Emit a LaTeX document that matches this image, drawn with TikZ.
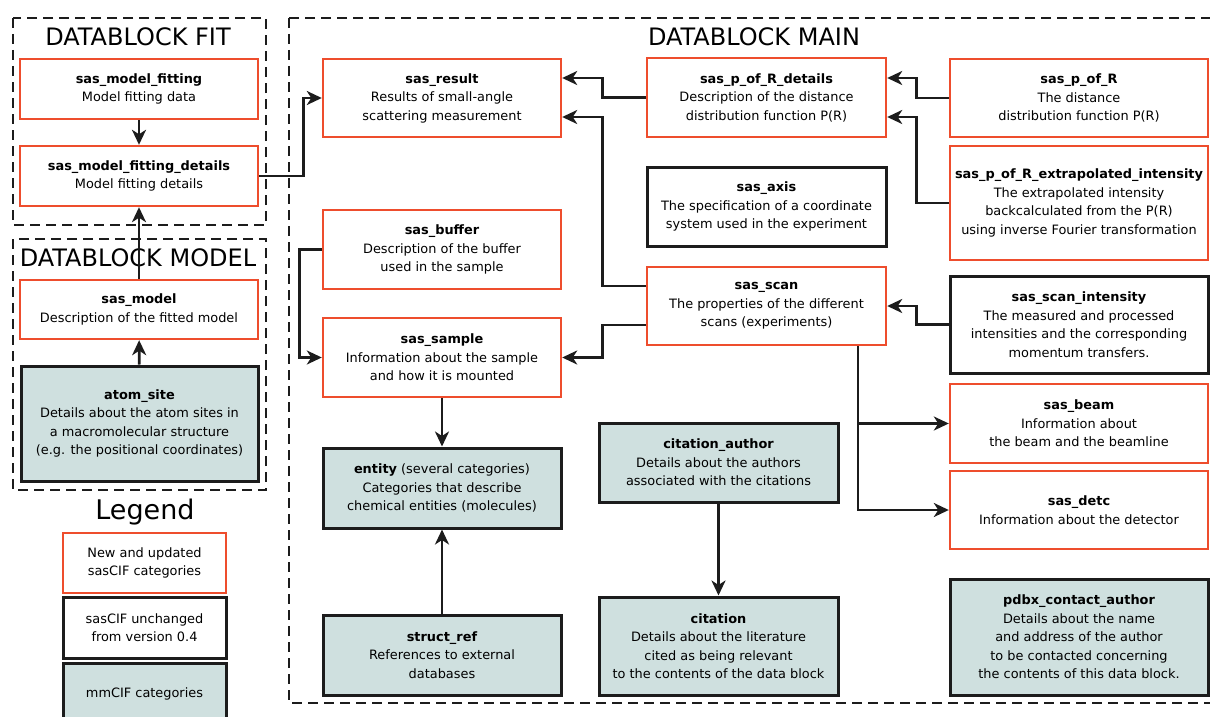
\documentclass[tikz,border=0pt]{standalone}
\usepackage{fontspec}
\setmainfont{DejaVu Sans}
\definecolor{SasRed}{RGB}{238,77,45}
\definecolor{CifBlack}{RGB}{28,28,28}
\definecolor{MmFill}{RGB}{207,224,223}
\usetikzlibrary{arrows.meta,positioning,calc}

\begin{document}
\begin{tikzpicture}[x=1pt,y=-1pt,
  cat/.style={align=center,inner sep=0pt,font=\fontsize{12.9}{18.5}\selectfont},
  newcat/.style={cat,draw=SasRed,line width=2.4pt,fill=white},
  oldcat/.style={cat,draw=CifBlack,line width=3pt,fill=white},
  mmcat/.style={oldcat,fill=MmFill},
  wh/.style 2 args={minimum width=#1pt,minimum height=#2pt},
  link/.style={CifBlack,line width=2.8pt,-{Stealth[length=15pt,width=14pt,inset=4.5pt]}},
  block/.style={CifBlack,line width=2.8pt,dash pattern=on 10pt off 6pt},
  blocktitle/.style={anchor=base,font=\fontsize{24}{28}\selectfont}]
\useasboundingbox (0,0) rectangle (1210,717);
% Datablocks
\draw[block] (13,18) rectangle (266,225);
\draw[block] (13,239) rectangle (266,490);
\draw[block] (289,18) rectangle (1225,703);
\node[blocktitle] (tfit) at (138,46) {DATABLOCK FIT};
\node[blocktitle] (tmodel) at (138,266) {DATABLOCK MODEL};
\node[blocktitle] (tmain) at (754,46) {DATABLOCK MAIN};
% Fit and model
\node[newcat,wh={238}{60}] (fit) at (139,89) {\textbf{sas\_model\_fitting}\\Model fitting data};
\node[newcat,wh={238}{60}] (fitdet) at (139,176) {\textbf{sas\_model\_fitting\_details}\\Model fitting details};
\node[newcat,wh={238}{59}] (model) at (139,309.5) {\textbf{sas\_model}\\Description of the fitted model};
\node[mmcat,wh={237}{115}] (atomsite) at (139.5,423.5) {\textbf{atom\_site}\\Details about the atom sites in\\a macromolecular structure\\(e.g. the positional coordinates)};
% Legend
\node[anchor=base,font=\fontsize{27}{30}\selectfont] (legend) at (145,519) {Legend};
\node[newcat,wh={163}{60}] (lnew) at (144.5,563) {New and updated\\sasCIF categories};
\node[oldcat,wh={163}{61}] (lold) at (144.5,627.5) {sasCIF unchanged\\from version 0.4};
\node[mmcat,wh={163}{62}] (lmm) at (144.5,694) {mmCIF categories};
% Main: left column
\node[newcat,wh={238}{78}] (result) at (442,98) {\textbf{sas\_result}\\Results of small-angle\\scattering measurement};
\node[newcat,wh={238}{79}] (buffer) at (442,249.5) {\textbf{sas\_buffer}\\Description of the buffer\\used in the sample};
\node[newcat,wh={238}{79}] (sample) at (442,357.5) {\textbf{sas\_sample}\\Information about the sample\\and how it is mounted};
\node[mmcat,wh={238}{80}] (entity) at (442,488) {\textbf{entity} (several categories)\\Categories that describe\\chemical entities (molecules)};
\node[mmcat,wh={238}{80}] (structref) at (442,655) {\textbf{struct\_ref}\\References to external\\databases};
% Main: middle column
\node[newcat,wh={239}{79}] (prdet) at (766.5,97.5) {\textbf{sas\_p\_of\_R\_details}\\Description of the distance\\distribution function P(R)};
\node[oldcat,wh={239}{79}] (axis) at (766.5,206.5) {\textbf{sas\_axis}\\The specification of a coordinate\\system used in the experiment};
\node[newcat,wh={239}{78}] (scan) at (766.5,306) {\textbf{sas\_scan}\\The properties of the different\\scans (experiments)};
\node[mmcat,wh={239}{79}] (citauth) at (718.5,462.5) {\textbf{citation\_author}\\Details about the authors\\associated with the citations};
\node[mmcat,wh={239}{98}] (cit) at (718.5,646) {\textbf{citation}\\Details about the literature\\cited as being relevant\\to the contents of the data block};
% Main: right column
\node[newcat,wh={258}{78}] (pr) at (1079,98) {\textbf{sas\_p\_of\_R}\\The distance\\distribution function P(R)};
\node[newcat,wh={258}{114}] (prext) at (1079,203) {\textbf{sas\_p\_of\_R\_extrapolated\_intensity}\\The extrapolated intensity\\backcalculated from the P(R)\\using inverse Fourier transformation};
\node[oldcat,wh={258}{97}] (scanint) at (1079,324.5) {\textbf{sas\_scan\_intensity}\\The measured and processed\\intensities and the corresponding\\momentum transfers.};
\node[newcat,wh={258}{79}] (beam) at (1079,423.5) {\textbf{sas\_beam}\\Information about\\the beam and the beamline};
\node[newcat,wh={258}{78}] (detc) at (1079,510) {\textbf{sas\_detc}\\Information about the detector};
\node[mmcat,wh={258}{116}] (pdbx) at (1079,637) {\textbf{pdbx\_contact\_author}\\Details about the name\\and address of the author\\to be contacted concerning\\the contents of this data block.};
% Links
\draw[link] (fit) -- (fitdet);
\draw[link] (model) -- (fitdet);
\draw[link] (atomsite) -- (model);
\draw[link] (fitdet.east) -- ++(44,0) |- (result.west);
\draw[link] (prdet.west) -- ++(-43,0) |- ([yshift=20pt]result.east);
\draw[link] ([yshift=20pt]scan.west) -- ++(-43,0) |- ([yshift=-19pt]result.east);
\draw[link] ([yshift=-19pt]scan.west) -- ++(-43,0) |- (sample.east);
\draw[link] (buffer.west) -- ++(-22,0) |- (sample.west);
\draw[link] (sample) -- (entity);
\draw[link] (structref) -- (entity);
\draw[link] (citauth) -- (cit);
\draw[link] (pr.west) -- ++(-32,0) |- ([yshift=19.5pt]prdet.east);
\draw[link] (prext.west) -- ++(-32,0) |- ([yshift=-19.5pt]prdet.east);
\draw[link] (scanint.west) -- ++(-32,0) |- (scan.east);
% Scan to beam and detector
\coordinate (tap) at ([xshift=91.5pt]scan.south);
\draw[link] (tap) |- (detc.west);
\draw[link] (tap |- beam.west) -- (beam.west);
\end{tikzpicture}
\end{document}
